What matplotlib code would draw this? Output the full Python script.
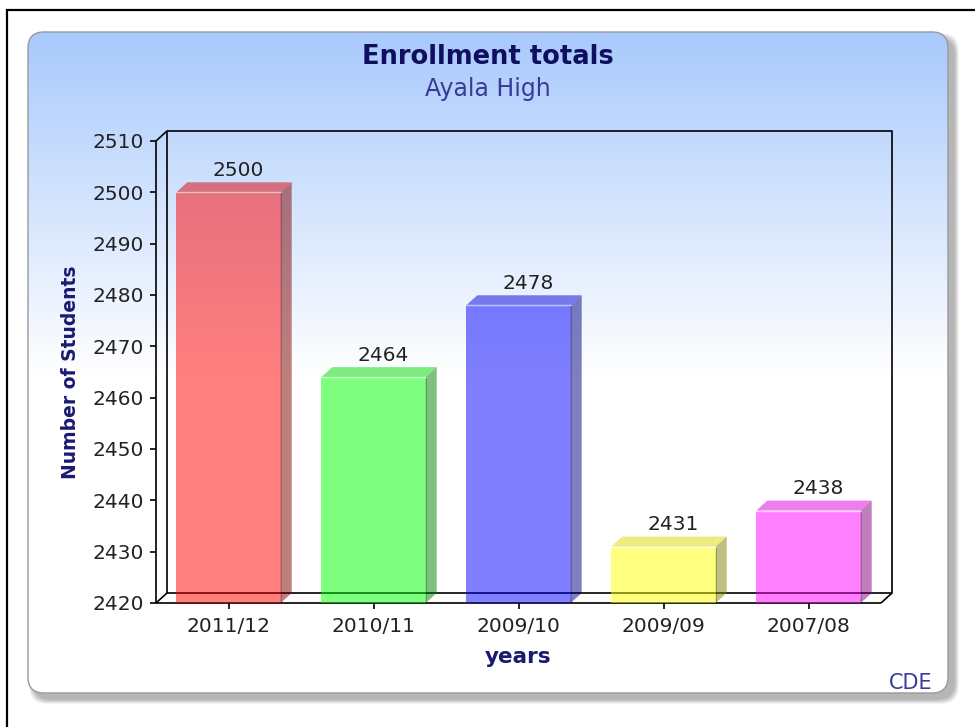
import matplotlib
matplotlib.use('Agg')
import matplotlib.pyplot as plt
import numpy as np
from matplotlib.patches import FancyBboxPatch, Rectangle, Polygon

# data
years = ['2011/12', '2010/11', '2009/10', '2009/09', '2007/08']
totals = [2500, 2464, 2478, 2431, 2438]
bar_colors = ['#ff0000', '#00ff00', '#0000ff', '#ffff00', '#ff00ff']
side_colors = ['#800000', '#008000', '#000080', '#808000', '#800080']
top_colors = ['#d90000', '#00d900', '#0000d9', '#d9d900', '#d900d9']
y_min, y_max, y_step = 2420, 2510, 10

W, H = 975, 727
fig = plt.figure(figsize=(W / 100, H / 100), dpi=100)

# background in pixel coordinates
bg = fig.add_axes([0, 0, 1, 1])
bg.set_xlim(0, W)
bg.set_ylim(H, 0)
bg.axis('off')

bg.add_patch(Rectangle((7, 10), W, H, facecolor='white', edgecolor='black', lw=1.6, zorder=0))

px0, py0, px1, py1 = 28, 32, 948, 693
# soft shadow
for k in range(10, 0, -1):
    bg.add_patch(FancyBboxPatch((px0 + 6 - k * 0.5, py0 + 6 - k * 0.5), px1 - px0 + k, py1 - py0 + k,
                                boxstyle='round,pad=0,rounding_size=18',
                                facecolor='black', edgecolor='none', alpha=0.03, zorder=1))
panel = FancyBboxPatch((px0, py0), px1 - px0, py1 - py0,
                       boxstyle='round,pad=0,rounding_size=16',
                       facecolor='white', edgecolor='none', zorder=2)
bg.add_patch(panel)

# vertical gradient: light blue at top to white
t = np.linspace(0, 1, 400)
frac = np.clip(t / 0.52, 0, 1)
top_rgb = np.array([0.66, 0.79, 0.99])
grad = top_rgb[None, :] * (1 - frac[:, None]) + np.ones(3)[None, :] * frac[:, None]
img = bg.imshow(grad[:, None, :], extent=(px0, px1, py1, py0), aspect='auto',
                interpolation='bilinear', zorder=3)
img.set_clip_path(panel)
bg.add_patch(FancyBboxPatch((px0, py0), px1 - px0, py1 - py0,
                            boxstyle='round,pad=0,rounding_size=16',
                            facecolor='none', edgecolor='#999999', lw=1.0, zorder=4))
bg.set_xlim(0, W)
bg.set_ylim(H, 0)

# main axes
ax_l, ax_r, ax_t, ax_b = 156, 881, 141, 603
ax = fig.add_axes([ax_l / W, (H - ax_b) / H, (ax_r - ax_l) / W, (ax_b - ax_t) / H])
ax.patch.set_visible(False)
x = np.arange(len(years))
x0, x1 = -0.5, len(years) - 0.5
ax.set_xlim(x0, x1)
ax.set_ylim(y_min, y_max)
for s in ax.spines.values():
    s.set_visible(False)

dx = 11 / ((ax_r - ax_l) / (x1 - x0))
dy = 10 / ((ax_b - ax_t) / (y_max - y_min))

lk = dict(color='black', lw=1.2, clip_on=False, zorder=1, solid_capstyle='butt')
ax.plot([x0, x0], [y_min, y_max], **lk)
ax.plot([x0, x0 + dx], [y_max, y_max + dy], **lk)
ax.plot([x0, x0 + dx], [y_min, y_min + dy], **lk)
ax.plot([x0 + dx, x1 + dx, x1 + dx, x0 + dx, x0 + dx],
        [y_min + dy, y_min + dy, y_max + dy, y_max + dy, y_min + dy], **lk)
ax.plot([x0, x1], [y_min, y_min], **lk)
ax.plot([x1, x1 + dx], [y_min, y_min + dy], **lk)

bw = 0.72
ax.bar(x, np.array(totals) - y_min, bottom=y_min, width=bw, color=bar_colors,
       alpha=0.5, zorder=3, clip_on=False)
for i, v in enumerate(totals):
    r = x[i] + bw / 2
    l = x[i] - bw / 2
    ax.add_patch(Polygon([(r, y_min), (r + dx, y_min + dy), (r + dx, v + dy), (r, v)],
                         closed=True, facecolor=side_colors[i], alpha=0.5, edgecolor='none',
                         zorder=3, clip_on=False))
    ax.add_patch(Polygon([(l, v), (l + dx, v + dy), (r + dx, v + dy), (r, v)],
                         closed=True, facecolor=top_colors[i], alpha=0.5, edgecolor='none',
                         zorder=3, clip_on=False))
    ax.plot([l, r], [v, v], color='white', lw=1, alpha=0.6, zorder=4, clip_on=False)
    ax.plot([r, r], [y_min, v], color='black', lw=0.6, alpha=0.25, zorder=4, clip_on=False)
    ax.text(x[i] + dx * 0.9, v + dy + 0.5, str(v), ha='center', va='bottom', fontsize=14.5,
            color='#222222', zorder=5)

ax.set_yticks(range(y_min, y_max + 1, y_step))
ax.set_xticks(x)
ax.set_xticklabels(years)
ax.tick_params(axis='both', direction='out', length=4.5, width=1.2, color='black',
               labelsize=14.5, labelcolor='#222222')
ax.tick_params(axis='y', pad=4.5)
ax.tick_params(axis='x', pad=5.5)

ax.set_xlabel('years', fontsize=15.5, fontweight='bold', color='#1a1a70', labelpad=8)
ax.set_ylabel('Number of Students', fontsize=13.5, fontweight='bold', color='#1a1a70', labelpad=9)

bg.text(W / 2, 57, 'Enrollment totals', ha='center', va='center', fontsize=18.5,
        fontweight='bold', color='#0f0f60', zorder=5)
bg.text(W / 2, 89, 'Ayala High', ha='center', va='center', fontsize=17, color='#3a3a99', zorder=5)
bg.text(932, 683, 'CDE', ha='right', va='center', fontsize=15, color='#3a3a99', zorder=5)

fig.savefig('out.png', dpi=100)
